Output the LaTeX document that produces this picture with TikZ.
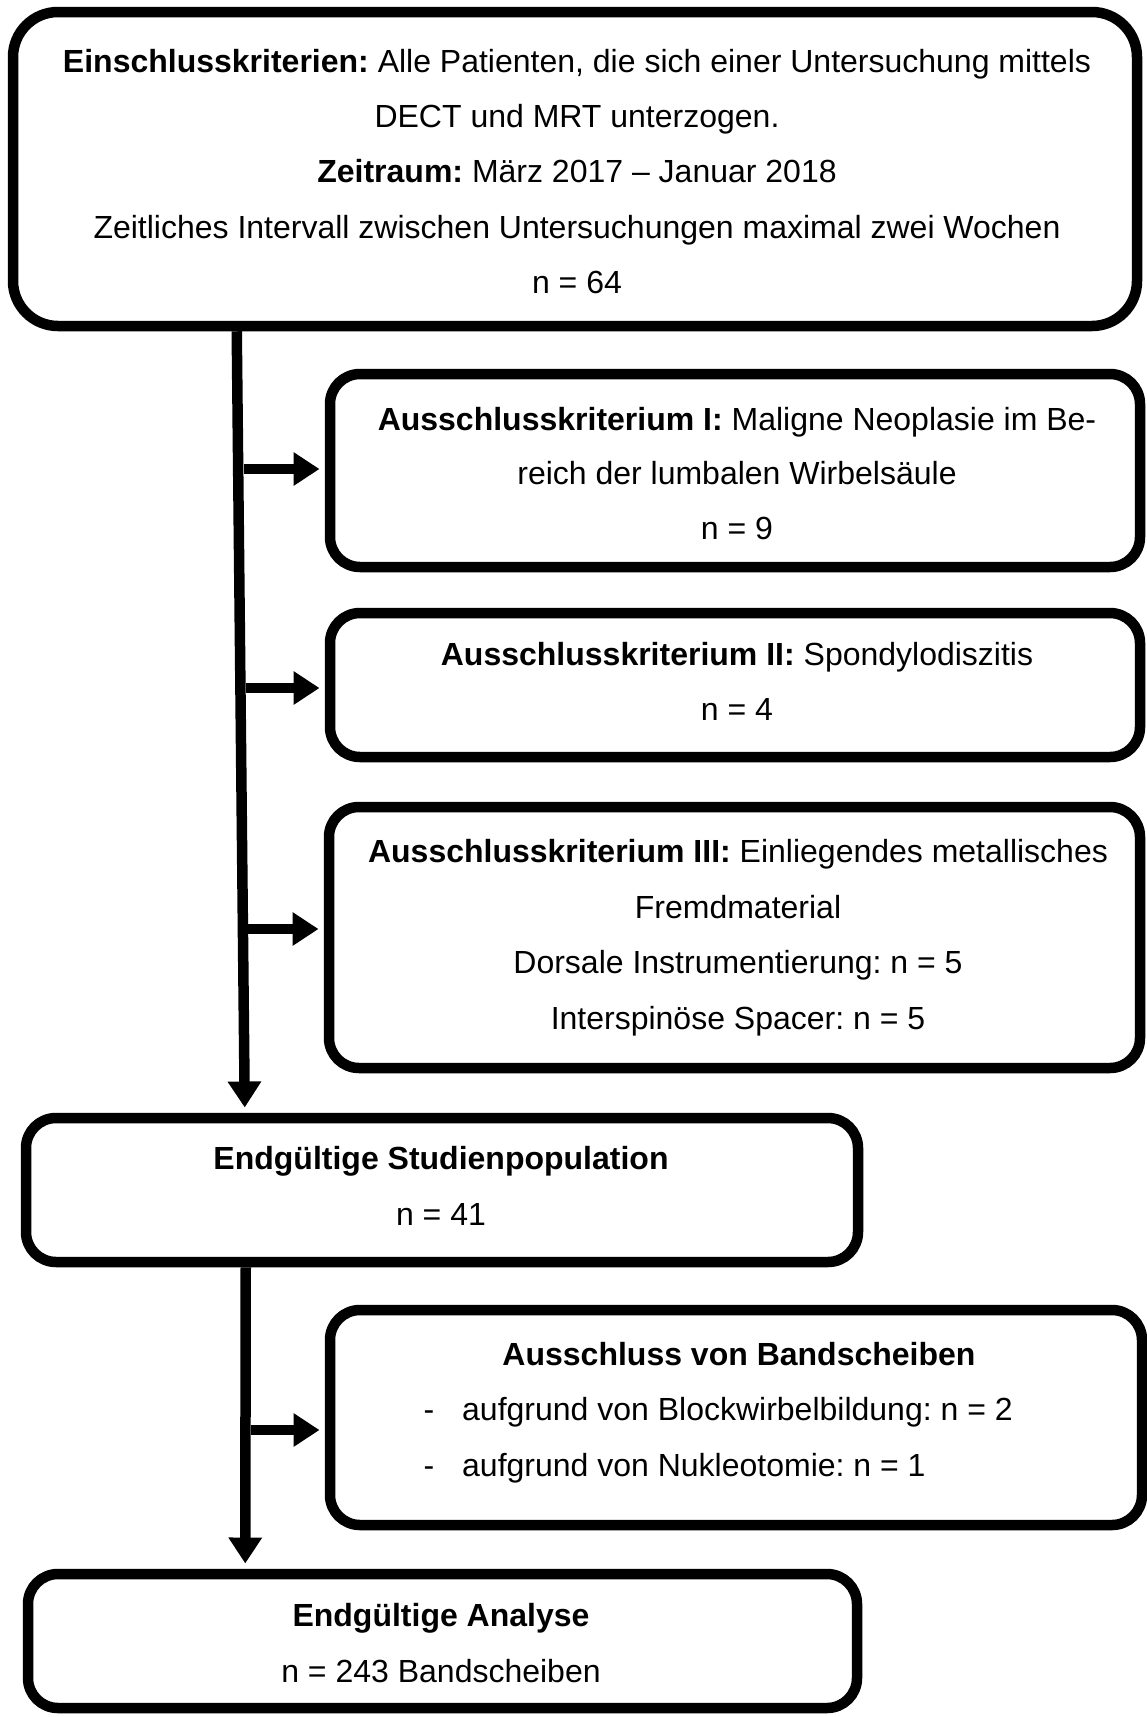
\documentclass[tikz,border=0pt]{standalone}
\usepackage{fontspec}
\setmainfont{Liberation Sans}
\usetikzlibrary{arrows.meta}
\frenchspacing
\begin{document}
\begin{tikzpicture}[x=1pt,y=-1pt,
  box/.style={draw=black, line width=10.5pt, rounded corners=30pt, inner sep=0pt, fill=white},
  txt/.style={anchor=base, inner sep=0pt, font=\fontsize{32}{38}\selectfont\frenchspacing},
  arr/.style={line width=10.5pt, -{Triangle[length=26pt,width=32pt]}},
  harr/.style={arr, shorten >=5.25pt}]
\useasboundingbox (0,0) rectangle (1147,1717);
\fill[white] (0,0) rectangle (1147,1717);

% boxes
\node[box, rounded corners=45pt, minimum width=1124pt, minimum height=314pt] (top) at (575,169) {};
\node[box, minimum width=810pt, minimum height=193pt] (b2) at (735,470.5) {};
\node[box, minimum width=810pt, minimum height=144pt] (b3) at (735,685) {};
\node[box, minimum width=811pt, minimum height=261pt] (b4) at (734.5,937.5) {};
\node[box, minimum width=832pt, minimum height=144pt] (b5) at (442,1190) {};
\node[box, minimum width=812pt, minimum height=215pt] (b6) at (736,1417.5) {};
\node[box, minimum width=829pt, minimum height=134pt] (b7) at (442.5,1641) {};

% texts
\node[txt] (t1) at (577,72) {\textbf{Einschlusskriterien:} Alle Patienten, die sich einer Untersuchung mittels};
\node[txt] (t2) at (577,127) {DECT und MRT unterzogen.};
\node[txt] (t3) at (577,182) {\textbf{Zeitraum:} März 2017 – Januar 2018};
\node[txt] (t4) at (577,238) {Zeitliches Intervall zwischen Untersuchungen maximal zwei Wochen};
\node[txt] (t5) at (577,293) {n = 64};

\node[txt] (a1) at (737,430) {\textbf{Ausschlusskriterium I:} Maligne Neoplasie im Be-};
\node[txt] (a2) at (737,484) {reich der lumbalen Wirbelsäule};
\node[txt] (a3) at (737,539) {n = 9};

\node[txt] (c1) at (737,665) {\textbf{Ausschlusskriterium II:} Spondylodiszitis};
\node[txt] (c2) at (737,720) {n = 4};

\node[txt] (d1) at (738,862) {\textbf{Ausschlusskriterium III:} Einliegendes metallisches};
\node[txt] (d2) at (738,918) {Fremdmaterial};
\node[txt] (d3) at (738,973) {Dorsale Instrumentierung: n = 5};
\node[txt] (d4) at (738,1029) {Interspinöse Spacer: n = 5};

\node[txt] (e1) at (441,1169) {\textbf{Endgültige Studienpopulation}};
\node[txt] (e2) at (441,1225) {n = 41};

\node[txt] (f1) at (739,1365) {\textbf{Ausschluss von Bandscheiben}};
\node[txt] (f2d) at (429,1420) {-};
\node[txt, anchor=base west] (f2) at (462,1420) {aufgrund von Blockwirbelbildung: n = 2};
\node[txt] (f3d) at (429,1476) {-};
\node[txt, anchor=base west] (f3) at (462,1476) {aufgrund von Nukleotomie: n = 1};

\node[txt] (g1) at (441,1626) {\textbf{Endgültige Analyse}};
\node[txt] (g2) at (441,1682) {n = 243 Bandscheiben};

% connectors
\draw[arr] ([xshift=229pt]top.south west) -- ([xshift=224pt,yshift=5.25pt]b5.north west);
\coordinate (h1) at (243.5,469);
\coordinate (h2) at (245.5,688);
\coordinate (h3) at (248,929);
\draw[harr] (h1) -- (h1 -| b2.west);
\draw[harr] (h2) -- (h2 -| b3.west);
\draw[harr] (h3) -- (h3 -| b4.west);
\draw[arr] ([xshift=225pt]b5.south west) -- ([xshift=222.5pt,yshift=5.25pt]b7.north west);
\coordinate (h4) at (251,1430);
\draw[harr] (h4) -- (h4 -| b6.west);
\end{tikzpicture}
\end{document}
